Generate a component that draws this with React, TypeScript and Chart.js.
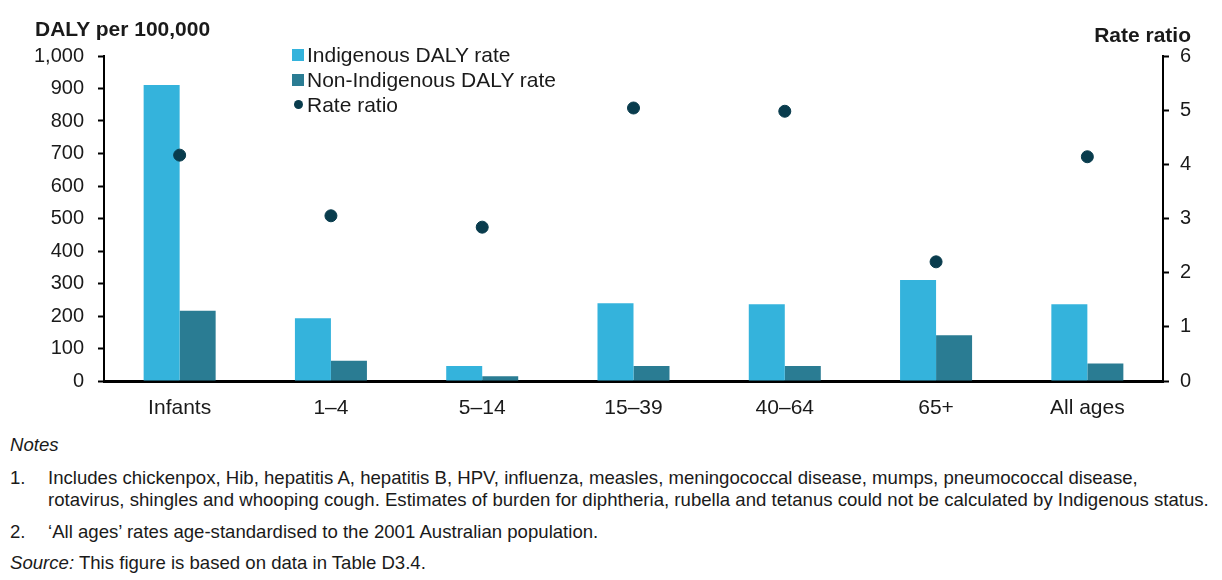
import React, { useEffect, useRef } from "react";
import { Chart, registerables } from "chart.js";

Chart.register(...registerables);

const categories = ["Infants", "1–4", "5–14", "15–39", "40–64", "65+", "All ages"];
const indigenousRate = [911, 193, 46, 239, 236, 311, 236];
const nonIndigenousRate = [216, 62, 15, 46, 46, 141, 54];
const rateRatio = [4.17, 3.05, 2.84, 5.04, 4.98, 2.2, 4.14];
const leftTicks = [0, 100, 200, 300, 400, 500, 600, 700, 800, 900, 1000];
const rightTicks = [0, 1, 2, 3, 4, 5, 6];

const LIGHT = "#34b3dc";
const TEAL = "#2a7c93";
const DOT = "#093c4d";
const FONT = "'Liberation Sans', Arial, sans-serif";
const TEXT = "#1a1a1a";

export default function App() {
  const ref = useRef<HTMLCanvasElement | null>(null);

  useEffect(() => {
    if (!ref.current) return;
    const chart = new Chart(ref.current, {
      type: "bar",
      data: {
        labels: categories,
        datasets: [
          {
            type: "line",
            label: "Rate ratio",
            data: rateRatio,
            yAxisID: "y2",
            showLine: false,
            pointRadius: 6,
            pointHoverRadius: 6,
            pointBackgroundColor: DOT,
            pointBorderColor: DOT,
            backgroundColor: DOT,
            borderColor: DOT,
            order: 0,
          } as any,
          {
            label: "Indigenous DALY rate",
            data: indigenousRate,
            backgroundColor: LIGHT,
            yAxisID: "y",
            barPercentage: 1,
            categoryPercentage: 0.476,
            order: 1,
          },
          {
            label: "Non-Indigenous DALY rate",
            data: nonIndigenousRate,
            backgroundColor: TEAL,
            yAxisID: "y",
            barPercentage: 1,
            categoryPercentage: 0.476,
            order: 1,
          },
        ],
      },
      options: {
        responsive: false,
        animation: false,
        devicePixelRatio: 1,
        layout: { padding: { top: 56, left: 0, right: 0, bottom: 0 } },
        plugins: {
          legend: { display: false },
          tooltip: { enabled: false },
          title: { display: false },
        },
        scales: {
          x: {
            type: "category",
            offset: true,
            grid: { display: false, drawTicks: false },
            border: { display: true, color: "#000", width: 3 },
            ticks: { color: TEXT, font: { family: FONT, size: 21 }, padding: 15 },
            afterFit: (s: any) => {
              s.height = 49;
            },
          },
          y: {
            position: "left",
            min: 0,
            max: 1000,
            afterBuildTicks: (s: any) => {
              s.ticks = leftTicks.map((v) => ({ value: v }));
            },
            grid: {
              display: true,
              drawOnChartArea: false,
              drawTicks: true,
              tickLength: 6,
              tickWidth: 2,
              tickColor: "#000",
            },
            border: { display: true, color: "#000", width: 2 },
            ticks: {
              color: TEXT,
              font: { family: FONT, size: 20 },
              padding: 14,
              callback: (v: any) => Number(v).toLocaleString("en-US"),
            },
            afterFit: (s: any) => {
              s.width = 104;
            },
          },
          y2: {
            position: "right",
            min: 0,
            max: 6,
            afterBuildTicks: (s: any) => {
              s.ticks = rightTicks.map((v) => ({ value: v }));
            },
            grid: {
              display: true,
              drawOnChartArea: false,
              drawTicks: true,
              tickLength: 6,
              tickWidth: 2,
              tickColor: "#000",
            },
            border: { display: true, color: "#000", width: 2 },
            ticks: {
              color: TEXT,
              font: { family: FONT, size: 20 },
              padding: 11,
            },
            afterFit: (s: any) => {
              s.width = 59;
            },
          },
        },
      },
    });
    return () => chart.destroy();
  }, []);

  const legendItems = [
    { label: "Indigenous DALY rate", color: LIGHT, dot: false },
    { label: "Non-Indigenous DALY rate", color: TEAL, dot: false },
    { label: "Rate ratio", color: DOT, dot: true },
  ];

  const noteStyle: React.CSSProperties = {
    position: "absolute",
    fontFamily: FONT,
    fontSize: 18.6,
    color: TEXT,
    whiteSpace: "nowrap",
    lineHeight: "22px",
  };

  return (
    <div
      style={{
        position: "absolute",
        left: 0,
        top: 0,
        width: 1222,
        height: 580,
        background: "#fff",
        overflow: "hidden",
        fontFamily: FONT,
      }}
    >
      <canvas ref={ref} width={1222} height={430} style={{ position: "absolute", left: 0, top: 0 }} />
      <div
        style={{
          position: "absolute",
          left: 35,
          top: 16,
          fontFamily: FONT,
          fontWeight: "bold",
          fontSize: 21,
          lineHeight: "26px",
          color: TEXT,
          whiteSpace: "nowrap",
        }}
      >
        DALY per 100,000
      </div>
      <div
        style={{
          position: "absolute",
          right: 1222 - 1191,
          top: 22,
          fontFamily: FONT,
          fontWeight: "bold",
          fontSize: 21,
          lineHeight: "26px",
          color: TEXT,
          whiteSpace: "nowrap",
        }}
      >
        Rate ratio
      </div>
      <div style={{ position: "absolute", left: 292, top: 42 }}>
        {legendItems.map((it) => (
          <div
            key={it.label}
            style={{
              display: "flex",
              alignItems: "center",
              height: 25,
              fontFamily: FONT,
              fontSize: 21,
              color: TEXT,
              whiteSpace: "nowrap",
            }}
          >
            <span
              style={{
                display: "inline-block",
                width: it.dot ? 9 : 12,
                height: it.dot ? 9 : 12,
                borderRadius: it.dot ? "50%" : 0,
                background: it.color,
                marginRight: it.dot ? 4 : 3,
                marginLeft: it.dot ? 2 : 0,
              }}
            />
            {it.label}
          </div>
        ))}
      </div>
      <div style={{ ...noteStyle, left: 10, top: 434, fontStyle: "italic" }}>Notes</div>
      <div style={{ ...noteStyle, left: 10, top: 467 }}>1.</div>
      <div style={{ ...noteStyle, left: 48, top: 467 }}>
        Includes chickenpox, Hib, hepatitis A, hepatitis B, HPV, influenza, measles, meningococcal disease, mumps, pneumococcal disease,
        <br />
        rotavirus, shingles and whooping cough. Estimates of burden for diphtheria, rubella and tetanus could not be calculated by Indigenous status.
      </div>
      <div style={{ ...noteStyle, left: 10, top: 521 }}>2.</div>
      <div style={{ ...noteStyle, left: 48, top: 521 }}>
        ‘All ages’ rates age-standardised to the 2001 Australian population.
      </div>
      <div style={{ ...noteStyle, left: 10, top: 552 }}>
        <i>Source:</i> This figure is based on data in Table D3.4.
      </div>
    </div>
  );
}
